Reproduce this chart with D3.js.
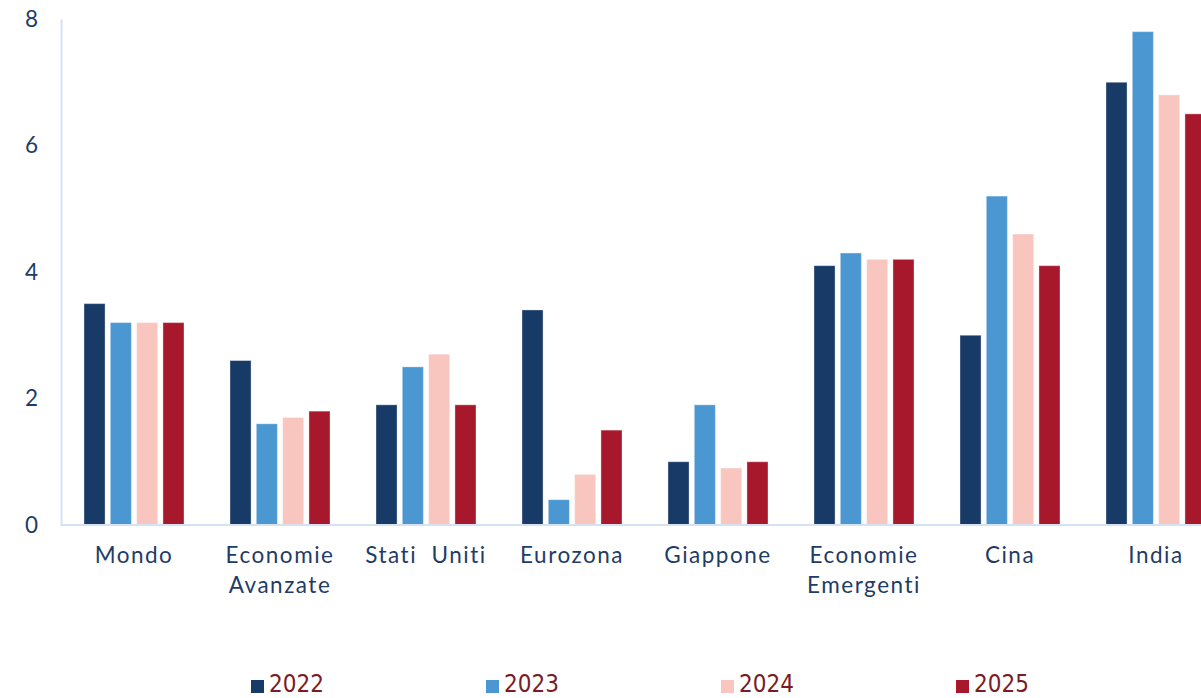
<!DOCTYPE html>
<html><head><meta charset="utf-8">
<script src="https://cdn.jsdelivr.net/npm/d3@7"></script>
<style>
html,body{margin:0;padding:0;background:#fff;overflow:hidden}
svg{display:block}
</style></head>
<body>
<svg id="chart" width="1201" height="698"></svg>
<script>
const categories = ["Mondo", "Economie\nAvanzate", "Stati  Uniti", "Eurozona", "Giappone", "Economie\nEmergenti", "Cina", "India"];
const years = ["2022", "2023", "2024", "2025"];
const v2022 = [3.5, 2.6, 1.9, 3.4, 1.0, 4.1, 3.0, 7.0];
const v2023 = [3.2, 1.6, 2.5, 0.4, 1.9, 4.3, 5.2, 7.8];
const v2024 = [3.2, 1.7, 2.7, 0.8, 0.9, 4.2, 4.6, 6.8];
const v2025 = [3.2, 1.8, 1.9, 1.5, 1.0, 4.2, 4.1, 6.5];
const yTicks = [0, 2, 4, 6, 8];
const colors = ["#173A66", "#4A97D2", "#F8C6BF", "#A8182D"];
const series = [v2022, v2023, v2024, v2025];

const svg = d3.select("#chart");
const x0 = 61, x1 = 61 + 146 * 8, yTop = 19, yBot = 525;
const labelFont = "Lato, 'Open Sans', sans-serif";

const x = d3.scaleBand().domain(d3.range(categories.length)).range([x0, x1]).paddingInner(0).paddingOuter(0);
const xs = d3.scaleBand().domain(d3.range(years.length)).range([23, 123]).paddingInner(0.2).paddingOuter(0);
const y = d3.scaleLinear().domain([0, 8]).range([yBot, yTop]);

const groups = svg.append("g").selectAll("g").data(categories).join("g")
  .attr("transform", (d, i) => `translate(${x(i)},0)`);
groups.each(function(c, i) {
  d3.select(this).selectAll("rect").data(series.map((s, k) => ({k, v: s[i]}))).join("rect")
    .attr("x", d => xs(d.k))
    .attr("width", xs.bandwidth())
    .attr("y", d => y(d.v))
    .attr("height", d => yBot - y(d.v))
    .attr("fill", d => colors[d.k])
    .attr("stroke", "rgba(255,255,255,0.35)")
    .attr("stroke-width", 1);
});

const axisColor = "#D5E2F3";
const yAxis = svg.append("g").attr("transform", `translate(${x0},0)`)
  .call(d3.axisLeft(y).tickValues(yTicks).tickSize(0).tickPadding(22).tickFormat(d3.format("d")));
yAxis.select(".domain").attr("stroke", axisColor).attr("stroke-width", 2);
yAxis.selectAll("text").attr("fill", "#1F3C66").style("font-family", labelFont)
  .style("font-size", "22.5px").style("letter-spacing", "1px");

const xAxisG = svg.append("g").attr("transform", `translate(0,${yBot})`);
xAxisG.append("line").attr("x1", x0).attr("x2", 1201).attr("stroke", axisColor).attr("stroke-width", 2);
xAxisG.selectAll("text").data(categories).join("text")
  .attr("x", (d, i) => x(i) + x.bandwidth() / 2)
  .attr("y", 38)
  .attr("text-anchor", "middle")
  .attr("fill", "#1F3C66")
  .style("font-family", labelFont)
  .style("font-size", "22.5px")
  .style("letter-spacing", "1.5px")
  .style("white-space", "pre")
  .each(function(d) {
    const lines = d.split("\n");
    const cx = d3.select(this).attr("x");
    d3.select(this).selectAll("tspan").data(lines).join("tspan")
      .attr("x", cx)
      .attr("dy", (l, j) => j === 0 ? 0 : 30)
      .text(l => l);
  });

const legend = svg.append("g").selectAll("g").data(years).join("g")
  .attr("transform", (d, i) => `translate(${251 + i * 235},680)`);
legend.append("rect").attr("width", 13).attr("height", 13).attr("fill", (d, i) => colors[i]);
legend.append("text").attr("x", 18).attr("y", 12)
  .attr("fill", "#7A1C26")
  .style("font-family", "'Liberation Sans Narrow', 'DejaVu Sans Condensed', sans-serif")
  .style("font-size", "24px")
  .text(d => d);
</script>
</body></html>
